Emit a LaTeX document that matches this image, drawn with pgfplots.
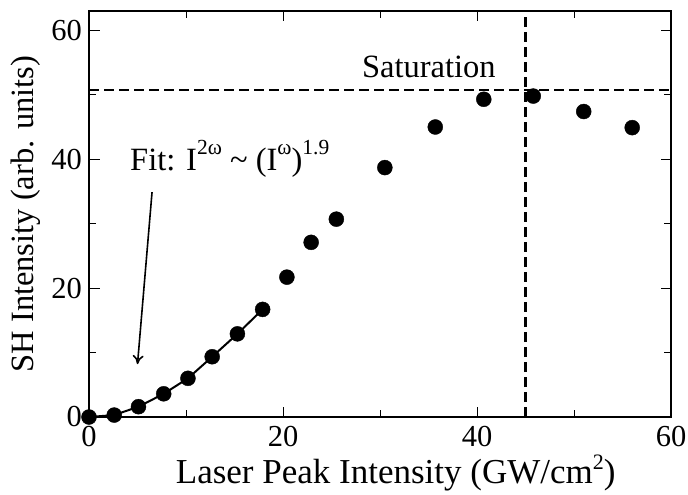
\documentclass[border=0pt]{standalone}
\usepackage{pgfplots}
\pgfplotsset{compat=1.18}
\usepackage{fontspec}
\setmainfont{Liberation Serif}
\usetikzlibrary{arrows.meta}
\newcommand\sups[3]{\raisebox{#2}{\fontsize{#1}{#1}\selectfont #3}}
\begin{document}
\begin{tikzpicture}
\begin{axis}[name=ax, scale only axis, width=582pt, height=406pt,
  xmin=0, xmax=60, ymin=0, ymax=63,
  xtick={0,20,40,60}, ytick={0,20,40,60},
  minor xtick={10,30,50}, minor ytick={10,30,50},
  tick align=inside, xtick pos=both, ytick pos=both,
  major tick length=10.5pt, minor tick length=7pt,
  axis line style={line width=1.3pt},
  every tick/.style={line width=1pt, black},
  tick label style={font=\fontsize{30.5}{32}\selectfont},
  /pgf/number format/assume math mode=true,
  xticklabel style={anchor=base, inner sep=0pt, yshift=-29pt},
  yticklabel style={anchor=east, inner sep=0pt, xshift=-7pt},
  xlabel={Laser Peak Intensity (GW/cm\sups{22}{14pt}{2})},
  ylabel={SH Intensity (arb. units)},
  xlabel style={font=\fontsize{35}{36}\selectfont, at={(axis description cs:0.527,-0.165)}, anchor=base, inner sep=0pt},
  ylabel style={font=\fontsize{32.5}{34}\selectfont, at={(axis description cs:-0.0962,0.5)}, anchor=base, inner sep=0pt},
  clip=false,
]
\addplot[black, line width=2pt] coordinates {
(0,0) (2.6,0.3) (5.1,1.6) (7.7,3.6) (10.2,6.0) (12.7,9.35) (15.3,12.9) (17.9,16.7)
};
\addplot[only marks, mark=*, mark size=7.5pt, black] coordinates {
(0,0) (2.6,0.3) (5.1,1.6) (7.7,3.6) (10.2,6.0) (12.7,9.35) (15.3,12.9) (17.9,16.7)
(20.4,21.7) (22.9,27.1) (25.5,30.7) (30.5,38.7) (35.7,45.0)
(40.7,49.3) (45.8,49.8) (51.0,47.4) (56.0,44.9)
};
\addplot[black, line width=2.2pt, dash pattern=on 10pt off 5pt] coordinates {(0,50.7) (60,50.7)};
\addplot[black, line width=2.2pt, dash pattern=on 10pt off 5pt] coordinates {(45,0) (45,63)};
\node[anchor=base, font=\fontsize{32.5}{34}\selectfont, inner sep=0pt] at (axis cs:35.03,52.67) {Saturation};
\node[anchor=base west, font=\fontsize{32.5}{34}\selectfont, inner sep=0pt] at (axis cs:4.23,38.3)
  {Fit: I\sups{21.5}{16pt}{2ω} \textasciitilde{} (I\sups{21.5}{16pt}{ω})\sups{21.5}{16pt}{1.9}};
\draw[line width=1.6pt, -{To[length=9pt,width=11pt]}] (axis cs:6.5,34.9) -- (axis cs:5.0,8.2);
\end{axis}
\pgfresetboundingbox
\path[use as bounding box] ([xshift=-89pt,yshift=-77pt]ax.south west) rectangle ([xshift=17pt,yshift=11pt]ax.north east);
\end{tikzpicture}
\end{document}
